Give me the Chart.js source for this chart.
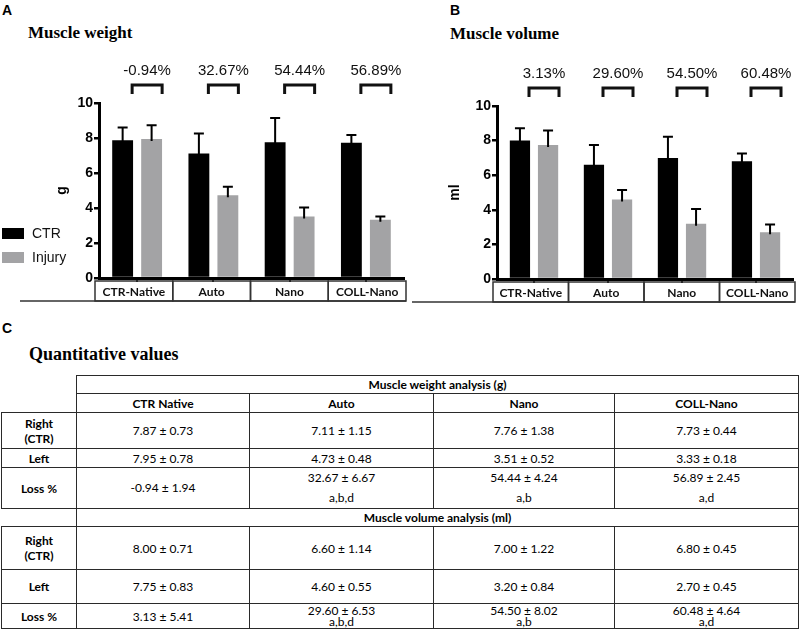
<!DOCTYPE html>
<html>
<head>
<meta charset="utf-8">
<script src="https://cdn.jsdelivr.net/npm/chart.js@4.4.0/dist/chart.umd.min.js"></script>
<style>
  body { margin: 0; width: 800px; height: 636px; position: relative; background: #fff; overflow: hidden; }
  .letter { position: absolute; font: bold 14px "Liberation Sans", Arial, sans-serif; line-height: 1; color: #000; }
  .ttl { position: absolute; font: bold 17px "Liberation Serif", "Times New Roman", serif; line-height: 1; color: #000; }
  canvas { position: absolute; top: 0; }
  #chartA { left: 0; }
  #chartB { left: 405px; }
  table { position: absolute; left: 1px; top: 375px; width: 797px; border-collapse: collapse; table-layout: fixed;
          font: 12px Lato, "Open Sans", sans-serif; color: #000; }
  td { border: 1.5px solid #2a2a2a; text-align: center; padding: 0; line-height: 15px; }
  td.b { font-weight: bold; }
  td.blank { border-left: none; border-top: none; }
</style>
</head>
<body>
<div class="letter" style="left:2px;top:3px">A</div>
<div class="letter" style="left:450px;top:3px">B</div>
<div class="letter" style="left:2px;top:321px">C</div>
<div class="ttl" style="left:28px;top:24px">Muscle weight</div>
<div class="ttl" style="left:450px;top:25px">Muscle volume</div>
<div class="ttl" style="left:29px;top:345px;font-size:18px">Quantitative values</div>

<canvas id="chartA" width="410" height="310"></canvas>
<canvas id="chartB" width="395" height="310"></canvas>
<table id="tbl"></table>

<script>
// chart categories (x axis boxes) and table column names
const categories = ["CTR-Native", "Auto", "Nano", "COLL-Nano"];
const tableCols = ["CTR Native", "Auto", "Nano", "COLL-Nano"];
const seriesNames = ["CTR", "Injury"];

// muscle weight (g)
const weightCtr = [7.87, 7.11, 7.76, 7.73];
const weightCtrSd = [0.73, 1.15, 1.38, 0.44];
const weightInj = [7.95, 4.73, 3.51, 3.33];
const weightInjSd = [0.78, 0.48, 0.52, 0.18];
const weightLoss = [-0.94, 32.67, 54.44, 56.89];
const weightLossSd = [1.94, 6.67, 4.24, 2.45];
const weightSig = ["", "a,b,d", "a,b", "a,d"];

// muscle volume (ml)
const volCtr = [8.0, 6.6, 7.0, 6.8];
const volCtrSd = [0.71, 1.14, 1.22, 0.45];
const volInj = [7.75, 4.6, 3.2, 2.7];
const volInjSd = [0.83, 0.55, 0.84, 0.45];
const volLoss = [3.13, 29.6, 54.5, 60.48];
const volLossSd = [5.41, 6.53, 8.02, 4.64];
const volSig = ["", "a,b,d", "a,b", "a,d"];

const yTicks = { min: 0, max: 10, step: 2 };

const BLACK = "#000";
const GRAY = "#a3a3a5";

function extras(loss, showLegend, lineLeft) {
  return {
    id: "extras",
    afterDatasetsDraw(chart) {
      const ctx = chart.ctx;
      const y = chart.scales.y;
      chart.data.datasets.forEach((ds, di) => {
        chart.getDatasetMeta(di).data.forEach((bar, i) => {
          const top = y.getPixelForValue(ds.data[i] + ds.errors[i]);
          ctx.save();
          ctx.strokeStyle = BLACK;
          ctx.lineWidth = 2;
          ctx.beginPath();
          ctx.moveTo(bar.x, bar.y + 2);
          ctx.lineTo(bar.x, top);
          ctx.moveTo(bar.x - 5, top);
          ctx.lineTo(bar.x + 5, top);
          ctx.stroke();
          ctx.restore();
        });
      });
    },
    afterDraw(chart) {
      const ctx = chart.ctx;
      const area = chart.chartArea;
      const x = chart.scales.x;
      ctx.save();

      // brackets with loss percentages
      ctx.strokeStyle = "#111";
      ctx.lineWidth = 3;
      ctx.fillStyle = "#111";
      ctx.font = "15px Arial, 'Liberation Sans', sans-serif";
      ctx.textAlign = "center";
      ctx.textBaseline = "middle";
      loss.forEach((v, i) => {
        const cx = x.getPixelForValue(i) + 10;
        const yt = area.top - 18, yb = area.top - 9;
        ctx.beginPath();
        ctx.moveTo(cx - 15, yb);
        ctx.lineTo(cx - 15, yt);
        ctx.lineTo(cx + 15, yt);
        ctx.lineTo(cx + 15, yb);
        ctx.stroke();
        ctx.fillText(v.toFixed(2) + "%", cx, area.top - 32);
      });

      // category boxes under the axis
      const bl = area.left - 4, br = area.right + 2;
      const w = (br - bl) / categories.length;
      const y0 = area.bottom + 3, h = 20;
      ctx.lineWidth = 1.5;
      ctx.strokeStyle = "#333";
      ctx.font = "bold 12px Lato, sans-serif";
      categories.forEach((c, i) => {
        ctx.strokeRect(bl + i * w, y0, w, h);
        ctx.fillText(c, bl + i * w + w / 2, y0 + h / 2 + 1);
      });
      ctx.beginPath();
      ctx.moveTo(lineLeft, y0 + h);
      ctx.lineTo(br, y0 + h);
      ctx.stroke();

      // legend
      if (showLegend) {
        ctx.textAlign = "left";
        ctx.font = "14px Arial, 'Liberation Sans', sans-serif";
        chart.data.datasets.forEach((ds, i) => {
          const ly = 228 + i * 24;
          ctx.fillStyle = ds.backgroundColor;
          ctx.fillRect(2, ly, 22, 11);
          ctx.fillStyle = "#111";
          ctx.fillText(ds.label, 32, ly + 6);
        });
      }
      ctx.restore();
    }
  };
}

function makeChart(id, ctr, ctrSd, inj, injSd, loss, axisTitle, geom) {
  const boldFont = { family: "Arial, 'Liberation Sans', sans-serif", size: 14, weight: "bold" };
  return new Chart(document.getElementById(id), {
    type: "bar",
    data: {
      labels: categories,
      datasets: [
        { label: seriesNames[0], data: ctr, errors: ctrSd, backgroundColor: BLACK, borderWidth: 0 },
        { label: seriesNames[1], data: inj, errors: injSd, backgroundColor: GRAY, borderWidth: 0 },
      ],
    },
    options: {
      responsive: false,
      animation: false,
      categoryPercentage: 0.76,
      barPercentage: 0.72,
      layout: { padding: { left: geom.left, top: geom.top, right: geom.right, bottom: geom.bottom } },
      plugins: { legend: { display: false }, tooltip: { enabled: false } },
      scales: {
        x: {
          afterFit(s) { s.height = 4; },
          ticks: { display: false },
          grid: { display: true, drawOnChartArea: false, drawTicks: true, tickLength: 4, offset: false, lineWidth: 2, color: BLACK },
          border: { display: true, width: 3, color: BLACK },
        },
        y: {
          min: yTicks.min,
          max: yTicks.max,
          afterFit(s) { s.width = geom.yWidth; },
          ticks: { stepSize: yTicks.step, color: BLACK, font: boldFont, padding: 1 },
          grid: { drawOnChartArea: false, drawTicks: true, tickLength: 5, lineWidth: 2.5, color: BLACK },
          border: { display: true, width: 3, color: BLACK },
          title: { display: true, text: axisTitle, color: BLACK, font: boldFont, padding: { top: 0, bottom: 0 } },
        },
      },
    },
    plugins: [extras(loss, geom.legend, geom.lineLeft)],
  });
}

makeChart("chartA", weightCtr, weightCtrSd, weightInj, weightInjSd, weightLoss, "g",
  { left: 54, top: 103, right: 6, bottom: 28, yWidth: 45, legend: true, lineLeft: 20 });
makeChart("chartB", volCtr, volCtrSd, volInj, volInjSd, volLoss, "ml",
  { left: 42, top: 106, right: 7, bottom: 27, yWidth: 50, legend: false, lineLeft: 7 });

// table
function pm(v, s) { return v.toFixed(2) + " \u00b1 " + s.toFixed(2); }
function cells(vals, fn) { return vals.map((v, i) => "<td>" + fn(v, i) + "</td>").join(""); }
function lossCells(loss, sd, sig, lh) {
  return loss.map((v, i) => "<td style=\"line-height:" + lh + "px\">" + pm(v, sd[i]) + (sig[i] ? "<br>" + sig[i] : "") + "</td>").join("");
}

let html = "<colgroup><col style=\"width:75px\"><col style=\"width:173px\"><col style=\"width:184px\"><col style=\"width:181px\"><col style=\"width:184px\"></colgroup>";
html += "<tr style=\"height:18px\"><td class=\"blank\" style=\"border-bottom:none\"></td><td class=\"b\" colspan=\"4\">Muscle weight analysis (g)</td></tr>";
html += "<tr style=\"height:19px\"><td class=\"blank\"></td>" + tableCols.map(c => "<td class=\"b\">" + c + "</td>").join("") + "</tr>";
html += "<tr style=\"height:36px\"><td class=\"b\">Right<br>(CTR)</td>" + cells(weightCtr, (v, i) => pm(v, weightCtrSd[i])) + "</tr>";
html += "<tr style=\"height:19px\"><td class=\"b\">Left</td>" + cells(weightInj, (v, i) => pm(v, weightInjSd[i])) + "</tr>";
html += "<tr style=\"height:38px\"><td class=\"b\">Loss %</td>" + lossCells(weightLoss, weightLossSd, weightSig, 20) + "</tr>";
html += "<tr style=\"height:18px\"><td style=\"border-left:none\"></td><td class=\"b\" colspan=\"4\">Muscle volume analysis (ml)</td></tr>";
html += "<tr style=\"height:43px\"><td class=\"b\">Right<br>(CTR)</td>" + cells(volCtr, (v, i) => pm(v, volCtrSd[i])) + "</tr>";
html += "<tr style=\"height:34px\"><td class=\"b\">Left</td>" + cells(volInj, (v, i) => pm(v, volInjSd[i])) + "</tr>";
html += "<tr style=\"height:25px\"><td class=\"b\">Loss %</td>" + lossCells(volLoss, volLossSd, volSig, 11) + "</tr>";
document.getElementById("tbl").innerHTML = html;
</script>
</body>
</html>
